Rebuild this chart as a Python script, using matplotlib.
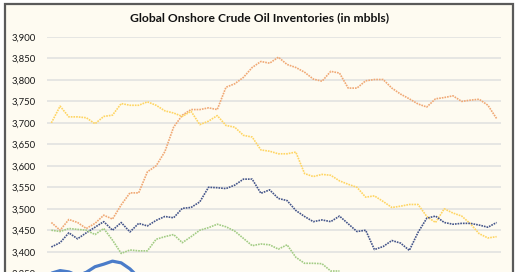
import numpy as np
import matplotlib
matplotlib.use("Agg")
import matplotlib.pyplot as plt
from matplotlib.patches import Rectangle
from matplotlib.ticker import FuncFormatter

nan = np.nan
weeks = list(range(52))

series_orange = [3468, 3450, 3475, 3468, 3454, 3466, 3485, 3476, 3509, 3537, 3537, 3586, 3600, 3633,
                 3690, 3718, 3731, 3731, 3735, 3731, 3783, 3791, 3806, 3829, 3843, 3839, 3853, 3836,
                 3829, 3818, 3802, 3797, 3820, 3816, 3781, 3781, 3798, 3801, 3801, 3781, 3767, 3756,
                 3744, 3737, 3756, 3759, 3763, 3750, 3753, 3755, 3741, 3710]
series_yellow = [3700, 3739, 3714, 3714, 3712, 3698, 3715, 3718, 3745, 3741, 3741, 3749, 3741, 3728,
                 3723, 3715, 3727, 3696, 3704, 3717, 3694, 3690, 3671, 3667, 3637, 3634, 3628, 3628,
                 3632, 3582, 3575, 3580, 3578, 3565, 3557, 3550, 3527, 3530, 3517, 3503, 3506, 3510,
                 3510, 3482, 3468, 3500, 3490, 3483, 3465, 3442, 3432, 3435]
series_navy = [3411, 3421, 3444, 3430, 3444, 3457, 3470, 3450, 3468, 3446, 3466, 3460, 3473, 3482,
               3479, 3501, 3503, 3516, 3550, 3549, 3547, 3555, 3569, 3569, 3536, 3544, 3524, 3519,
               3496, 3482, 3470, 3474, 3470, 3483, 3465, 3447, 3450, 3405, 3412, 3426, 3420, 3403,
               3445, 3478, 3483, 3468, 3464, 3466, 3466, 3462, 3457, 3468]
series_green = [3450, 3447, 3454, 3452, 3450, 3440, 3454, 3427, 3396, 3404, 3402, 3402, 3429, 3435,
                3440, 3421, 3435, 3450, 3456, 3464, 3458, 3448, 3431, 3414, 3418, 3416, 3406, 3416,
                3387, 3373, 3373, 3372, 3355, 3355] + [nan] * 18
series_current = [3350, 3356, 3353, 3345, 3352, 3365, 3371, 3378, 3374, 3360, 3340] + [nan] * 41

yticks = list(range(3300, 3901, 50))
title = "Global Onshore Crude Oil Inventories (in mbbls)"

W, H = 520, 272
fig = plt.figure(figsize=(W / 100, H / 100), dpi=100)
fig.patch.set_facecolor("white")
bg = "#FEFBF1"
fig.patches.append(Rectangle((5 / W, -0.1), 508 / W, 1.1 - 3.5 / H, transform=fig.transFigure,
                             facecolor=bg, edgecolor="#5a5a5a", linewidth=1.6, zorder=-10))

ymin, ymax = 3300, 3900
px_per_unit = 21.47 / 50
top_px = 37
h_px = (ymax - ymin) * px_per_unit
ax = fig.add_axes([47 / W, (H - top_px - h_px) / H, 454 / W, h_px / H])
ax.set_zorder(1)
ax.set_facecolor("none")
ax.set_xlim(-0.5, 51.5)
ax.set_ylim(ymin, ymax)
ax.set_yticks(yticks)
ax.yaxis.set_major_formatter(FuncFormatter(lambda v, p: f"{int(v):,}"))
ax.tick_params(axis="y", length=0, pad=8, labelsize=6.8, labelcolor="#1a1a1a")
for lab in ax.get_yticklabels():
    lab.set_fontfamily("Lato")
ax.set_xticks([])
for s in ax.spines.values():
    s.set_visible(False)
ax.grid(axis="y", color="#E4E4E2", linewidth=1.3, zorder=0)
ax.set_axisbelow(True)

dot = (0, (1.0, 0.6))
ax.plot(weeks, series_orange, color="#F0A874", lw=1.2, ls=dot, zorder=3)
ax.plot(weeks, series_yellow, color="#FFD562", lw=1.2, ls=dot, zorder=3)
ax.plot(weeks, series_navy, color="#44558A", lw=1.2, ls=dot, zorder=3)
ax.plot(weeks, series_green, color="#A2CC84", lw=1.2, ls=dot, zorder=3)
ax.plot(weeks, series_current, color="#4A7CC9", lw=2.3, ls="-", zorder=4,
        solid_capstyle="round", solid_joinstyle="round")

fig.text(260 / W, 1 - 18 / H, title, ha="center", va="center", fontsize=8.7,
         fontweight="bold", fontfamily="Lato", color="#111111")

fig.savefig("out.png", dpi=100, facecolor=fig.get_facecolor())
